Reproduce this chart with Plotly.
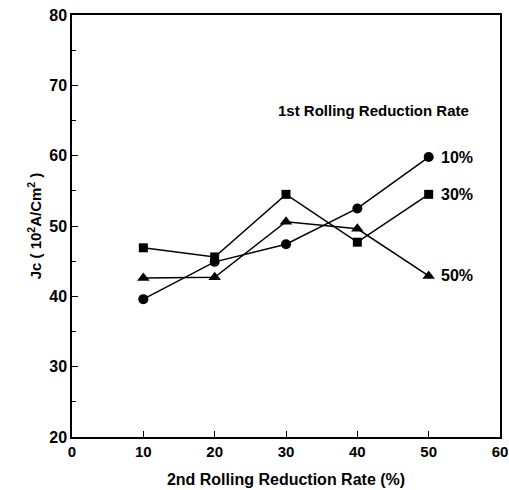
import plotly.graph_objects as go

x_vals = [10, 20, 30, 40, 50]
series_names = ["10%", "30%", "50%"]
jc_10 = [39.6, 44.9, 47.4, 52.5, 59.8]
jc_30 = [46.9, 45.6, 54.5, 47.7, 54.5]
jc_50 = [42.6, 42.7, 50.6, 49.6, 42.9]
symbols = ["circle", "square", "triangle-up"]
x_ticks = [0, 10, 20, 30, 40, 50, 60]
y_ticks = [20, 30, 40, 50, 60, 70, 80]

FONT = "Liberation Sans, Arial, sans-serif"
fig = go.Figure()
for name, ys, sym, sz in zip(series_names, [jc_10, jc_30, jc_50], symbols, [10, 9, 11]):
    fig.add_trace(go.Scatter(
        x=x_vals, y=ys, mode="lines+markers", name=name,
        line=dict(color="black", width=1.5),
        marker=dict(symbol=sym, size=sz, color="black"),
        showlegend=False,
    ))
    fig.add_annotation(x=x_vals[-1], y=ys[-1], xref="x", yref="y",
                       text="<b>" + name + "</b>", showarrow=False,
                       xanchor="left", xshift=10,
                       font=dict(family=FONT, size=16, color="black"))

fig.add_annotation(x=42.3, y=66.4, xref="x", yref="y",
                   text="<b>1st Rolling Reduction Rate</b>", showarrow=False,
                   font=dict(family=FONT, size=15, color="black"))

fig.update_xaxes(range=[0, 60], tickvals=x_ticks,
                 ticktext=["<b>%d</b>" % v for v in x_ticks],
                 ticks="inside", ticklen=6, tickwidth=1.2, tickcolor="black",
                 showline=True, linecolor="black", linewidth=1.5, mirror=True,
                 showgrid=False, zeroline=False, automargin=False,
                 ticklabeloverflow="allow",
                 title=dict(text="<b>2nd Rolling Reduction Rate (%)</b>",
                            font=dict(family=FONT, size=16, color="black"), standoff=15),
                 tickfont=dict(family=FONT, size=15, color="black"))
fig.update_yaxes(range=[20, 80], tickvals=y_ticks,
                 ticktext=["<b>%d</b>" % v for v in y_ticks],
                 ticks="inside", ticklen=6, tickwidth=1.2, tickcolor="black",
                 minor=dict(dtick=5, ticks="inside", ticklen=4, tickcolor="black", tickwidth=1),
                 showline=True, linecolor="black", linewidth=1.5, mirror=True,
                 showgrid=False, zeroline=False, automargin=False,
                 ticklabeloverflow="allow",
                 title=dict(text="<b>Jc ( 10<sup>2</sup>A/Cm<sup>2</sup> )</b>",
                            font=dict(family=FONT, size=15, color="black"), standoff=4),
                 tickfont=dict(family=FONT, size=16, color="black"))

fig.update_layout(width=509, height=490,
                  margin=dict(l=72, r=9, t=15, b=53),
                  paper_bgcolor="white", plot_bgcolor="white",
                  font=dict(family=FONT, color="black"))
fig.write_html("out.html", config={"displayModeBar": False},
               post_script="document.body.style.margin='0';document.body.style.overflow='hidden';")
